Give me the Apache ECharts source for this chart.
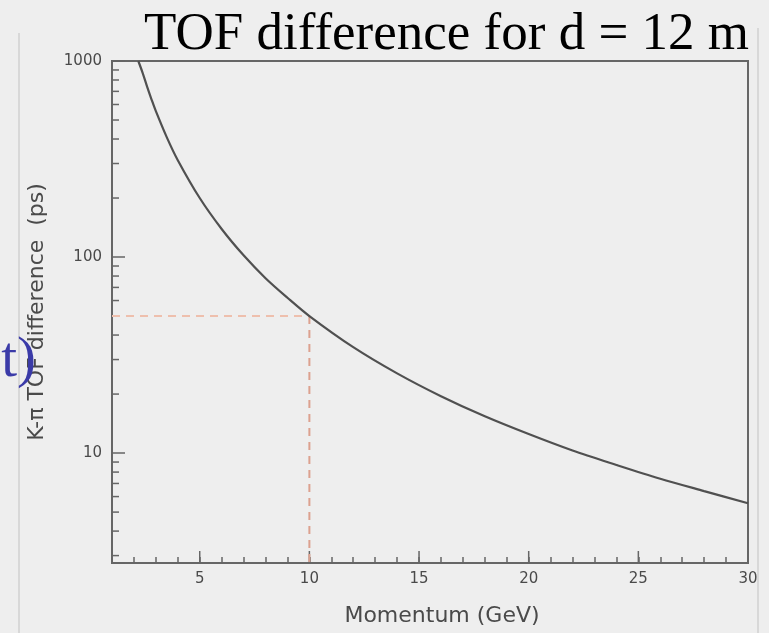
<!DOCTYPE html>
<html>
<head>
<meta charset="utf-8">
<script src="https://cdn.jsdelivr.net/npm/echarts@6/dist/echarts.min.js"></script>
<style>
html, body { margin: 0; padding: 0; background: #eeeeee; }
#main { width: 769px; height: 633px; }
</style>
</head>
<body>
<div id="main"></div>
<script>
// K-pi TOF difference (ps) vs momentum (GeV)
var momentum = [2.2, 2.4, 2.6, 2.8, 3, 3.5, 4, 5, 6, 7, 8, 9, 10, 12, 14, 16, 18, 20, 22, 24, 26, 28, 30];
var tofDiff = [1000, 868, 740, 638, 555, 408, 312, 200, 139, 102, 78, 62, 50, 34.7, 25.5, 19.5, 15.4, 12.5, 10.3, 8.7, 7.4, 6.4, 5.55];

var xMin = 1;
var xMax = 30;
var yMin = 2.75;
var yMax = 1000;
var xMajorTicks = [5, 10, 15, 20, 25, 30];
var yMajorTicks = [10, 100, 1000];
var yMinorTicks = [3, 4, 5, 6, 7, 8, 9, 20, 30, 40, 50, 60, 70, 80, 90, 200, 300, 400, 500, 600, 700, 800, 900];

// dashed guide: 50 ps at 10 GeV
var markP = 10;
var markT = 50;

var chart = echarts.init(document.getElementById('main'), null, {renderer: 'canvas'});

var axisColor = '#666666';
var labelColor = '#4a4a4a';

function curveData() {
    var out = [];
    for (var i = 0; i < momentum.length; i++) {
        out.push([momentum[i], tofDiff[i]]);
    }
    return out;
}

chart.setOption({
    backgroundColor: '#eeeeee',
    animation: false,
    title: {
        text: 'TOF difference for d = 12 m',
        right: 15,
        top: 4,
        textStyle: {
            fontFamily: 'Liberation Serif',
            fontSize: 53,
            fontWeight: 'normal',
            color: '#000000'
        }
    },
    graphic: [
        {type: 'line', shape: {x1: 19, y1: 33, x2: 19, y2: 633}, style: {stroke: '#d8d8d8', lineWidth: 2}},
        {type: 'line', shape: {x1: 758, y1: 28, x2: 758, y2: 633}, style: {stroke: '#d8d8d8', lineWidth: 2}},
        {
            type: 'text',
            z: 100,
            style: {
                text: 't)',
                x: 36,
                y: 361,
                align: 'right',
                verticalAlign: 'middle',
                font: '57px "Liberation Serif"',
                fill: '#3b3ba8'
            }
        }
    ],
    grid: {
        left: 112,
        right: 21,
        top: 61,
        bottom: 70,
        show: true,
        borderColor: axisColor,
        borderWidth: 2,
        backgroundColor: 'transparent'
    },
    xAxis: {
        type: 'value',
        min: xMin,
        max: xMax,
        interval: 1,
        name: 'Momentum (GeV)',
        nameLocation: 'middle',
        nameGap: 42,
        nameTextStyle: {
            fontFamily: 'DejaVu Sans',
            fontSize: 22,
            color: labelColor,
            padding: [0, 0, 0, 24]
        },
        axisLine: {lineStyle: {color: axisColor, width: 2}},
        axisTick: {inside: true, length: 6, lineStyle: {color: axisColor, width: 1.5}},
        axisLabel: {
            margin: 9,
            fontFamily: 'DejaVu Sans',
            fontSize: 15,
            color: labelColor,
            formatter: function (v) {
                return xMajorTicks.indexOf(Math.round(v)) >= 0 && Math.abs(v - Math.round(v)) < 1e-6 ? String(Math.round(v)) : '';
            }
        },
        splitLine: {show: false}
    },
    yAxis: {
        type: 'log',
        logBase: 10,
        min: yMin,
        max: yMax,
        name: 'K-π TOF difference  (ps)',
        nameLocation: 'middle',
        nameGap: 64,
        nameTextStyle: {
            fontFamily: 'DejaVu Sans',
            fontSize: 22,
            color: labelColor
        },
        axisLine: {lineStyle: {color: axisColor, width: 2}},
        axisTick: {inside: true, length: 13, lineStyle: {color: axisColor, width: 1.5}},
        axisLabel: {
            margin: 10,
            fontFamily: 'DejaVu Sans',
            fontSize: 15,
            color: labelColor,
            formatter: function (v) {
                for (var i = 0; i < yMajorTicks.length; i++) {
                    if (Math.abs(v - yMajorTicks[i]) < 1e-6 * yMajorTicks[i]) {
                        return String(yMajorTicks[i]);
                    }
                }
                return '';
            }
        },
        splitLine: {show: false}
    },
    series: [
        {
            name: 'guideH',
            type: 'line',
            symbol: 'none',
            silent: true,
            data: [[xMin, markT], [markP, markT]],
            lineStyle: {color: '#eebfad', width: 2, type: [8, 6]}
        },
        {
            name: 'guideV',
            type: 'line',
            symbol: 'none',
            silent: true,
            data: [[markP, markT], [markP, yMin]],
            lineStyle: {color: '#dca18f', width: 2, type: [8, 6]}
        },
        {
            name: 'K-pi',
            type: 'line',
            symbol: 'none',
            smooth: 0.3,
            data: curveData(),
            lineStyle: {color: '#505050', width: 2.2}
        },
        {
            // minor ticks on the log axis
            name: 'yMinor',
            type: 'custom',
            silent: true,
            clip: false,
            data: yMinorTicks.map(function (v) { return [xMin, v]; }),
            renderItem: function (params, api) {
                var p = api.coord([api.value(0), api.value(1)]);
                return {
                    type: 'line',
                    shape: {x1: p[0], y1: p[1], x2: p[0] + 7, y2: p[1]},
                    style: {stroke: axisColor, lineWidth: 1.5}
                };
            }
        },
        {
            // longer major ticks on x
            name: 'xMajor',
            type: 'custom',
            silent: true,
            clip: false,
            data: xMajorTicks.map(function (v) { return [v, yMin]; }),
            renderItem: function (params, api) {
                var p = api.coord([api.value(0), api.value(1)]);
                return {
                    type: 'line',
                    shape: {x1: p[0], y1: p[1], x2: p[0], y2: p[1] - 12},
                    style: {stroke: axisColor, lineWidth: 1.5}
                };
            }
        }
    ]
});
</script>
</body>
</html>
